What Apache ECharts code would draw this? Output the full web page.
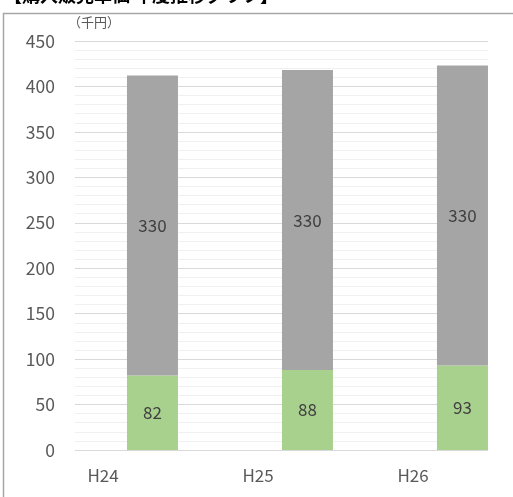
<!DOCTYPE html>
<html>
<head>
<meta charset="utf-8">
<script src="https://cdn.jsdelivr.net/npm/echarts@6/dist/echarts.min.js"></script>
<style>
html,body{margin:0;padding:0;background:#fff;}
#c{width:513px;height:497px;}
</style>
</head>
<body>
<div id="c"></div>
<script>
const categories = ['H24', 'H25', 'H26'];
const lowerValues = [82, 88, 93];
const upperValues = [330, 330, 330];
const yTicks = [0, 50, 100, 150, 200, 250, 300, 350, 400, 450];
const titleText = '【購入販売単価 年度推移グラフ】';
const unitText = '（千円）';

const FONT = '"Noto Sans CJK JP", "Noto Sans", sans-serif';
const chart = echarts.init(document.getElementById('c'));
const yMin = yTicks[0], yMax = yTicks[yTicks.length - 1], yStep = yTicks[1] - yTicks[0];

chart.setOption({
  animation: false,
  backgroundColor: '#ffffff',
  grid: [
    { left: 25.5, right: 22.5, top: 41, bottom: 47 },
    { left: 75, right: 25, top: 41, bottom: 47 }
  ],
  xAxis: [
    {
      type: 'category', gridIndex: 0, data: categories,
      axisLine: { show: false }, axisTick: { show: false },
      axisLabel: { color: '#595959', fontSize: 17, fontFamily: FONT, margin: 17 }
    },
    {
      type: 'value', gridIndex: 1, show: false, min: 0, max: 1
    }
  ],
  yAxis: [
    {
      type: 'value', gridIndex: 0, min: yMin, max: yMax, interval: yStep,
      axisLine: { show: false }, axisTick: { show: false },
      axisLabel: { show: false }, splitLine: { show: false }
    },
    {
      type: 'value', gridIndex: 1, min: yMin, max: yMax, interval: yStep,
      axisLine: { show: false }, axisTick: { show: false },
      axisLabel: { color: '#595959', fontSize: 17.5, fontFamily: FONT, margin: 20 },
      splitLine: { show: true, lineStyle: { color: '#d9d9d9', width: 1 } },
      minorTick: { show: false, splitNumber: 5 },
      minorSplitLine: { show: true, lineStyle: { color: '#f0f0f0', width: 1 } }
    }
  ],
  series: [
    {
      type: 'bar', name: 'blank', stack: 'a', xAxisIndex: 0, yAxisIndex: 0,
      data: categories.map(() => 0), barWidth: 51, barGap: '94%',
      itemStyle: { color: 'rgba(0,0,0,0)' }, silent: true
    },
    {
      type: 'bar', name: 'lower', stack: 'b', xAxisIndex: 0, yAxisIndex: 0,
      data: lowerValues, barWidth: 51, barGap: '94%',
      itemStyle: { color: '#a9d18e' },
      label: { show: true, position: 'inside', color: '#404040', fontSize: 17, fontFamily: FONT }
    },
    {
      type: 'bar', name: 'upper', stack: 'b', xAxisIndex: 0, yAxisIndex: 0,
      data: upperValues, barWidth: 51, barGap: '94%',
      itemStyle: { color: '#a5a5a5' },
      label: { show: true, position: 'inside', color: '#404040', fontSize: 17, fontFamily: FONT }
    }
  ],
  graphic: [
    {
      type: 'rect', left: 1, top: 11, silent: true,
      shape: { x: 0, y: 0, width: 520, height: 500 },
      style: { fill: 'none', stroke: '#a6a6a6', lineWidth: 1.5 }, z: -1
    },
    {
      type: 'text', left: 4, top: -14, silent: true,
      style: { text: titleText, fontSize: 18, fontWeight: 'bold', fontFamily: FONT, fill: '#000000' }
    },
    {
      type: 'text', left: 68, top: 16, silent: true,
      style: { text: unitText, fontSize: 13, fontFamily: FONT, fill: '#595959' }
    }
  ]
});
</script>
</body>
</html>
